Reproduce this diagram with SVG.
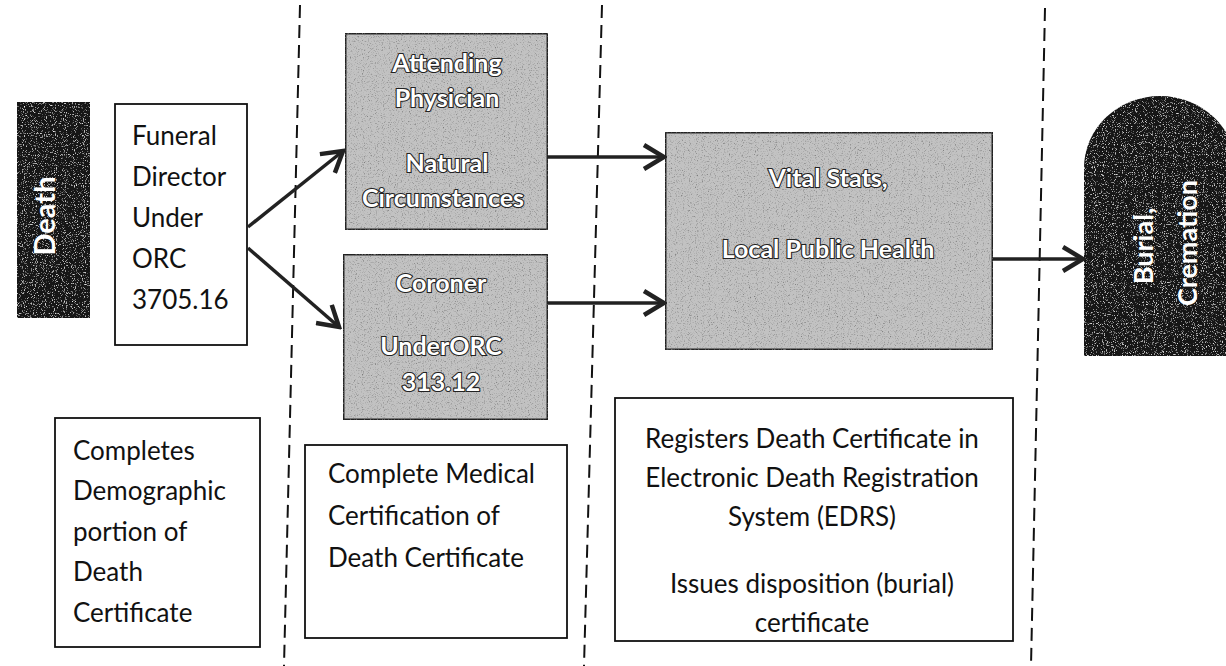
<svg xmlns="http://www.w3.org/2000/svg" width="1226" height="666" viewBox="0 0 1226 666">
  <style>
    .plain { font-family: Lato, "Liberation Sans", sans-serif; font-size: 26px; fill: #111; }
    .box { fill: #fff; stroke: #111; stroke-width: 1.8; }
    .grey { fill: #c2c2c2; stroke: #222; stroke-width: 3; }
    .dark { fill: #141414; }
    .inv { font-family: Lato, "Liberation Sans", sans-serif; font-size: 29px; font-weight: 700; fill: #fff; text-anchor: middle; }
    .hollow { font-family: Lato, "Liberation Sans", sans-serif; font-size: 25px; font-weight: 700; fill: #fff; stroke: #222; stroke-width: 2.2; paint-order: stroke; text-anchor: middle; }
    .divider { stroke: #111; stroke-width: 2; stroke-dasharray: 13 7; fill: none; }
    .flow { stroke: #222; stroke-width: 3.5; fill: none; marker-end: url(#chev); }
  </style>
  <defs>
    <marker id="chev" viewBox="0 0 26 28" refX="23" refY="14" markerWidth="26" markerHeight="28" markerUnits="userSpaceOnUse" orient="auto">
      <path d="M3,2 L23,14 L3,26" fill="none" stroke="#222" stroke-width="4.5" stroke-linejoin="miter"/>
    </marker>
    <!-- speckled print texture for shaded boxes -->
    <filter id="grainDark" x="0" y="0" width="1" height="1">
      <feTurbulence type="fractalNoise" baseFrequency="0.9" numOctaves="2" seed="4" result="n"/>
      <feColorMatrix in="n" type="matrix" values="0 0 0 0 1  0 0 0 0 1  0 0 0 0 1  3 0 0 0 -1.75" result="specks"/>
      <feComposite in="specks" in2="SourceGraphic" operator="in" result="s"/>
      <feMerge><feMergeNode in="SourceGraphic"/><feMergeNode in="s"/></feMerge>
    </filter>
    <filter id="grainGrey" x="0" y="0" width="1" height="1">
      <feTurbulence type="fractalNoise" baseFrequency="0.85" numOctaves="2" seed="9" result="n"/>
      <feColorMatrix in="n" type="matrix" values="0 0 0 0 0.2  0 0 0 0 0.2  0 0 0 0 0.2  3 0 0 0 -1.6" result="specks"/>
      <feComposite in="specks" in2="SourceGraphic" operator="in" result="s"/>
      <feMerge><feMergeNode in="SourceGraphic"/><feMergeNode in="s"/></feMerge>
    </filter>
  </defs>

  <rect width="1226" height="666" fill="#fff"/>

  <!-- stage dividers -->
  <g id="dividers">
    <line class="divider" x1="300" y1="5" x2="284" y2="666"/>
    <line class="divider" x1="602" y1="5" x2="584" y2="666"/>
    <line class="divider" x1="1045" y1="8" x2="1031" y2="666"/>
  </g>

  <g id="death">
    <rect class="dark" x="17" y="102" width="73" height="216" filter="url(#grainDark)"/>
    <text class="inv" transform="translate(55,216) rotate(-90)">Death</text>
  </g>

  <g id="funeral-director">
    <rect class="box" x="115" y="104" width="132" height="241"/>
    <text class="plain" x="132" y="145">Funeral</text>
    <text class="plain" x="132" y="186">Director</text>
    <text class="plain" x="132" y="227">Under</text>
    <text class="plain" x="132" y="268">ORC</text>
    <text class="plain" x="132" y="309">3705.16</text>
  </g>

  <g id="attending-physician">
    <rect class="grey" x="345" y="33" width="203" height="197" filter="url(#grainGrey)"/>
    <text class="hollow" x="447" y="72">Attending</text>
    <text class="hollow" x="447" y="107">Physician</text>
    <text class="hollow" x="447" y="172">Natural</text>
    <text class="hollow" x="443" y="207">Circumstances</text>
  </g>

  <g id="coroner">
    <rect class="grey" x="343" y="254" width="205" height="166" filter="url(#grainGrey)"/>
    <text class="hollow" x="441" y="292">Coroner</text>
    <text class="hollow" x="441" y="355">UnderORC</text>
    <text class="hollow" x="441" y="391">313.12</text>
  </g>

  <g id="vital-stats">
    <rect class="grey" x="665" y="132" width="328" height="218" filter="url(#grainGrey)"/>
    <text class="hollow" x="828" y="187">Vital Stats,</text>
    <text class="hollow" x="828" y="258">Local Public Health</text>
  </g>

  <g id="burial-cremation">
    <path class="dark" d="M1084,356 L1084,168 A76,72 0 0 1 1236,168 L1236,356 Z" filter="url(#grainDark)"/>
    <text class="inv" transform="translate(1153,246) rotate(-90)" style="font-size:27px">Burial,</text>
    <text class="inv" transform="translate(1197,243) rotate(-90)" style="font-size:27px">Cremation</text>
  </g>

  <g id="note-demographic">
    <rect class="box" x="55" y="418" width="205" height="229"/>
    <text class="plain" x="73" y="460">Completes</text>
    <text class="plain" x="73" y="500">Demographic</text>
    <text class="plain" x="73" y="541">portion of</text>
    <text class="plain" x="73" y="581">Death</text>
    <text class="plain" x="73" y="622">Certificate</text>
  </g>

  <g id="note-medical">
    <rect class="box" x="305" y="445" width="262" height="193"/>
    <text class="plain" x="328" y="483">Complete Medical</text>
    <text class="plain" x="328" y="525">Certification of</text>
    <text class="plain" x="328" y="567">Death Certificate</text>
  </g>

  <g id="note-registration">
    <rect class="box" x="615" y="398" width="398" height="243"/>
    <text class="plain" x="812" y="448" text-anchor="middle">Registers Death Certificate in</text>
    <text class="plain" x="812" y="487" text-anchor="middle">Electronic Death Registration</text>
    <text class="plain" x="812" y="526" text-anchor="middle">System (EDRS)</text>
    <text class="plain" x="812" y="593" text-anchor="middle">Issues disposition (burial)</text>
    <text class="plain" x="812" y="632" text-anchor="middle">certificate</text>
  </g>

  <g id="connectors">
    <line class="flow" x1="248" y1="227" x2="343" y2="151"/>
    <line class="flow" x1="248" y1="248" x2="339" y2="327"/>
    <line class="flow" x1="548" y1="157" x2="664" y2="157"/>
    <line class="flow" x1="548" y1="303" x2="664" y2="303"/>
    <line class="flow" x1="993" y1="259" x2="1083" y2="259"/>
  </g>
</svg>
